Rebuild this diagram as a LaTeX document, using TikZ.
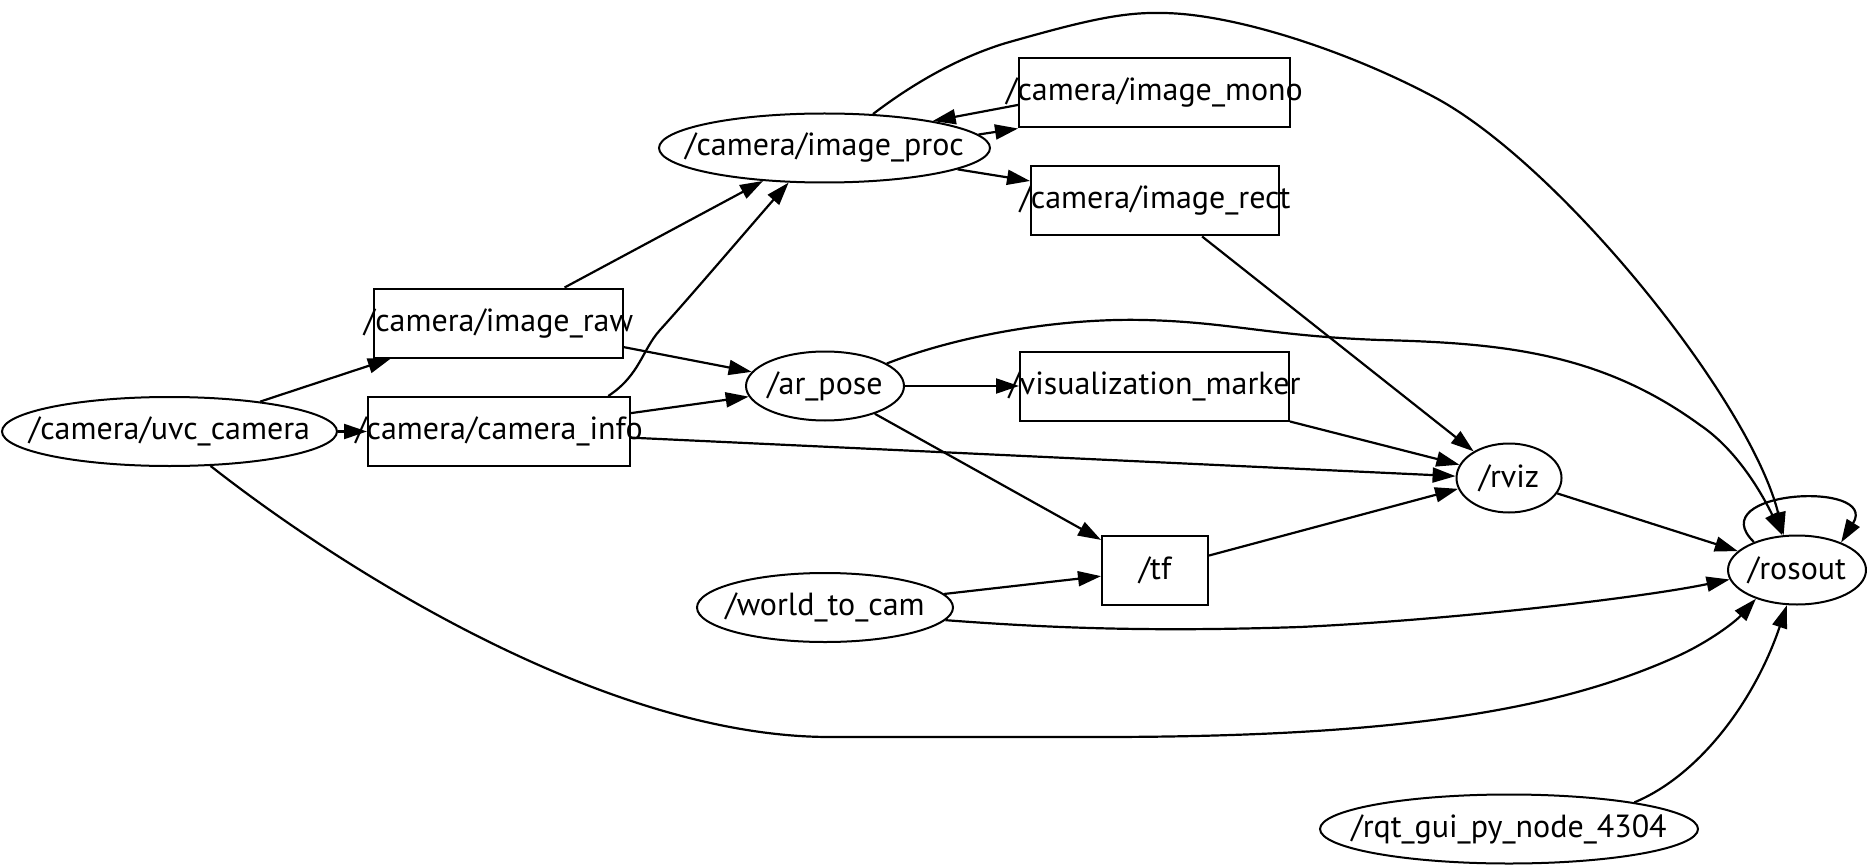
\documentclass[tikz,border=0pt]{standalone}
\usepackage{fontspec}
\setmainfont{PT Sans}
\usetikzlibrary{shapes.geometric,arrows.meta}
\tikzset{
  rg_node/.style={
    draw, ellipse, line width=1pt, inner sep=0pt,
    minimum height=34.5pt,
    font=\fontsize{16pt}{18pt}\selectfont,
    execute at begin node={\hbox to 0pt\bgroup\hss},
    execute at end node={\hss\egroup}
  },
  rg_topic/.style={
    draw, rectangle, line width=1pt, inner sep=0pt,
    minimum height=34.5pt,
    font=\fontsize{16pt}{18pt}\selectfont,
    execute at begin node={\hbox to 0pt\bgroup\hss},
    execute at end node={\hss\egroup}
  },
  rg_arr/.style={-{Triangle[length=11.5pt,width=7.5pt]}, line width=1.1pt},
}

\begin{document}
\begin{tikzpicture}[x=0.5pt, y=-0.5pt]

\fill[white] (0,0) rectangle (1867,866);
\useasboundingbox (0,0) rectangle (1867,866);

% ROS nodes (ellipses) and topics (boxes)
\node[rg_node,  minimum width=167.5pt] (uvc)    at (169.5,431.5) {/camera/uvc\_camera};
\node[rg_topic, minimum width=124.5pt] (raw)    at (498.5,323)   {/camera/image\_raw};
\node[rg_topic, minimum width=131pt]   (info)   at (499,431.5)   {/camera/camera\_info};
\node[rg_node,  minimum width=165.5pt] (proc)   at (824.5,148)   {/camera/image\_proc};
\node[rg_node,  minimum width=79pt]    (ar)     at (825,386)     {/ar\_pose};
\node[rg_node,  minimum width=128pt]   (w2c)    at (825,607.5)   {/world\_to\_cam};
\node[rg_topic, minimum width=135.5pt] (mono)   at (1154.5,93)   {/camera/image\_mono};
\node[rg_topic, minimum width=124pt]   (rect)   at (1155,201)    {/camera/image\_rect};
\node[rg_topic, minimum width=134.5pt] (vis)    at (1154.5,386)  {/visualization\_marker};
\node[rg_topic, minimum width=53pt]    (tf)     at (1155,570)    {/tf};
\node[rg_node,  minimum width=52.5pt]  (rviz)   at (1509,478)    {/rviz};
\node[rg_node,  minimum width=69pt]    (rosout) at (1797,570)    {/rosout};
\node[rg_node,  minimum width=189pt]   (rqt)    at (1509,829)    {/rqt\_gui\_py\_node\_4304};

% straight connections
\draw[rg_arr] (uvc)  -- (raw);
\draw[rg_arr] (uvc)  -- (info);
\draw[rg_arr] (raw)  -- (proc);
\draw[rg_arr] (raw)  -- (ar);
\draw[rg_arr] (info) -- (ar);
\draw[rg_arr] (info) -- (rviz.178);
\draw[rg_arr] (proc.5) -- (mono.south west);
\draw[rg_arr] (mono.185) -- (proc.14);
\draw[rg_arr] (proc) -- (rect);
\draw[rg_arr] (rect.-37) -- (rviz.143);
\draw[rg_arr] (ar)   -- (vis);
\draw[rg_arr] (ar)   -- (tf);
\draw[rg_arr] (vis.south east) -- (rviz.165);
\draw[rg_arr] (tf.15) -- (rviz.192);
\draw[rg_arr] (w2c)  -- (tf);
\draw[rg_arr] (rviz) -- (rosout);

% curved connections
\draw[rg_arr] (info.18) .. controls (640,375) and (642,350) .. (660,330)
     .. controls (690,297) and (760,215) .. (proc.224);
\draw[rg_arr] (proc.35) .. controls (915,82) and (960,57) .. (1006,43)
     .. controls (1080,22) and (1120,12) .. (1161,13)
     .. controls (1230,13) and (1344,49) .. (1434,97)
     .. controls (1560,164) and (1750,400) .. (rosout.111);
\draw[rg_arr] (ar.20) .. controls (960,335) and (1060,318) .. (1144,320)
     .. controls (1230,322) and (1270,336) .. (1380,340)
     .. controls (1500,343) and (1600,352) .. (1700,425)
     .. controls (1740,452) and (1765,500) .. (rosout.113);
\draw[rg_arr] (uvc.-40) .. controls (330,560) and (600,737) .. (830,737)
     -- (1100,737)
     .. controls (1400,737) and (1560,710) .. (1680,655)
     .. controls (1710,641) and (1735,622) .. (rosout.215);
\draw[rg_arr] (w2c.-6) .. controls (1050,628) and (1150,632) .. (1300,627)
     .. controls (1450,620) and (1640,598) .. (rosout.188);
\draw[rg_arr] (rqt.12) .. controls (1700,775) and (1755,700) .. (rosout.254);

% self loop
\draw[rg_arr] (rosout.147) .. controls (1700,490) and (1880,480) .. (rosout.32);

\end{tikzpicture}
\end{document}
